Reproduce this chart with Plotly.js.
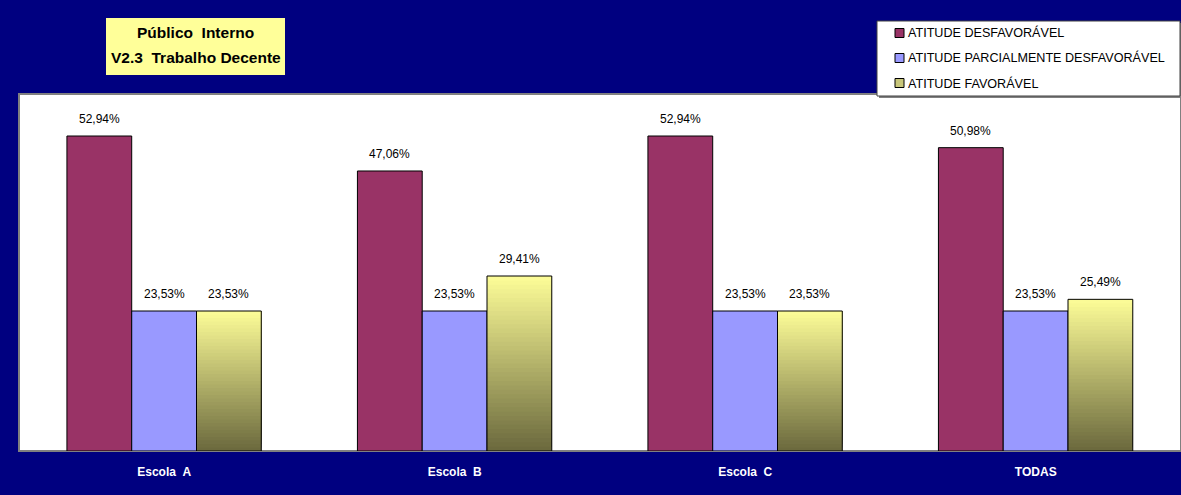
<!DOCTYPE html>
<html>
<head>
<meta charset="utf-8">
<script src="https://cdn.plot.ly/plotly-3.0.1.min.js"></script>
<style>
html,body{margin:0;padding:0;background:#000080;}
#chart{width:1181px;height:495px;}
</style>
</head>
<body>
<div id="chart"></div>
<script>
const categories = ["Escola\u00a0\u00a0A", "Escola\u00a0\u00a0B", "Escola\u00a0\u00a0C", "TODAS"];
const desfavoravel = [52.94, 47.06, 52.94, 50.98];
const parcialmente = [23.53, 23.53, 23.53, 23.53];
const favoravel = [23.53, 29.41, 23.53, 25.49];
const seriesNames = ["ATITUDE DESFAVORÁVEL", "ATITUDE PARCIALMENTE DESFAVORÁVEL", "ATITUDE FAVORÁVEL"];
const seriesColors = ["#993366", "#9999FF", "#C8C67A"];
const titleLines = ["Público\u00a0\u00a0Interno", "V2.3\u00a0\u00a0Trabalho Decente"];

const fmt = v => v.toFixed(2).replace('.', ',') + '%';
const W = 0.223;
const offs = [-0.335, -0.112, 0.111];
const lineSty = {color: '#000000', width: 1};
const FONT = 'Liberation Sans, Arial, sans-serif';
const txtFont = {family: FONT, size: 12, color: '#000000'};

// pixel -> paper helpers (plot area 19..1181 x 94..451)
const px = x => (x - 19) / 1162;
const py = y => (451 - y) / 357;

const traces = [];
traces.push({
  type: 'bar', x: categories, y: desfavoravel, name: seriesNames[0],
  width: W, offset: offs[0],
  marker: {color: seriesColors[0], line: lineSty}
});
traces.push({
  type: 'bar', x: categories, y: parcialmente, name: seriesNames[1],
  width: W, offset: offs[1],
  marker: {color: seriesColors[1], line: lineSty}
});
// gradient segments for the favourable series
const N = 40;
const c0 = [108, 106, 62], c1 = [255, 255, 153];
for (let i = 0; i < N; i++) {
  const t = i / N;
  const c = c0.map((a, k) => Math.round(a + (c1[k] - a) * t));
  traces.push({
    type: 'bar', x: categories,
    base: favoravel.map(v => v * i / N),
    y: favoravel.map(v => v * (N - i) / N),
    width: W, offset: offs[2], hoverinfo: 'skip',
    marker: {color: 'rgb(' + c.join(',') + ')', line: {width: 0}}
  });
}
traces.push({
  type: 'bar', x: categories, y: favoravel, name: seriesNames[2],
  width: W, offset: offs[2],
  marker: {color: 'rgba(0,0,0,0)', line: lineSty}
});

// data labels above bars
const annotations = [];
[desfavoravel, parcialmente, favoravel].forEach((vals, k) => {
  vals.forEach((v, i) => {
    annotations.push({
      xref: 'x', yref: 'y', x: i + offs[k] + W / 2, y: v,
      xanchor: 'center', yanchor: 'bottom', yshift: 8, showarrow: false,
      text: fmt(v), font: txtFont
    });
  });
});

// title box
const shapes = [{
  type: 'rect', xref: 'paper', yref: 'paper', x0: 0, x1: 1, y0: 0, y1: 1,
  line: {color: '#808080', width: 2}, fillcolor: 'rgba(0,0,0,0)', layer: 'below'
}, {
  type: 'rect', xref: 'paper', yref: 'paper', x0: px(106), x1: px(285), y0: py(75), y1: py(18),
  line: {width: 0}, fillcolor: '#FFFF99', layer: 'above'
}];
[33, 58].forEach((yy, k) => {
  annotations.push({
    xref: 'paper', yref: 'paper', x: px(195.5), y: py(yy),
    xanchor: 'center', yanchor: 'middle', showarrow: false,
    text: '<b>' + titleLines[k] + '</b>',
    font: {family: FONT, size: 15.5, color: '#000000'}
  });
});

// legend (manual)
shapes.push({
  type: 'rect', xref: 'paper', yref: 'paper', x0: px(879), x1: px(1182), y0: py(98), y1: py(23),
  line: {width: 0}, fillcolor: '#808080', layer: 'above'
}, {
  type: 'rect', xref: 'paper', yref: 'paper', x0: px(877), x1: px(1180), y0: py(96), y1: py(21),
  line: {color: '#404040', width: 1}, fillcolor: '#FFFFFF', layer: 'above'
});
const rows = [33, 58, 83];
seriesNames.forEach((name, k) => {
  shapes.push({
    type: 'rect', xref: 'paper', yref: 'paper',
    x0: px(895), x1: px(904), y0: py(rows[k] + 4.5), y1: py(rows[k] - 4.5),
    line: {color: '#000000', width: 1}, fillcolor: seriesColors[k], layer: 'above'
  });
  annotations.push({
    xref: 'paper', yref: 'paper', x: px(906), y: py(rows[k]),
    xanchor: 'left', yanchor: 'middle', showarrow: false,
    text: name, font: {family: FONT, size: 12.6, color: '#000000'}
  });
});

const layout = {
  width: 1181, height: 495,
  paper_bgcolor: '#000080', plot_bgcolor: '#FFFFFF',
  margin: {l: 19, r: 0, t: 94, b: 44},
  barmode: 'overlay',
  showlegend: false,
  xaxis: {
    type: 'category', showgrid: false, zeroline: false, showline: false,
    ticks: '', tickfont: {family: FONT, size: 12, color: '#FFFFFF', weight: 'bold'},
    ticklabelstandoff: 12
  },
  yaxis: {
    range: [0, 60], showgrid: false, zeroline: false, showticklabels: false, ticks: '', showline: false
  },
  shapes: shapes,
  annotations: annotations
};

Plotly.newPlot('chart', traces, layout, {displayModeBar: false, staticPlot: true});
</script>
</body>
</html>
